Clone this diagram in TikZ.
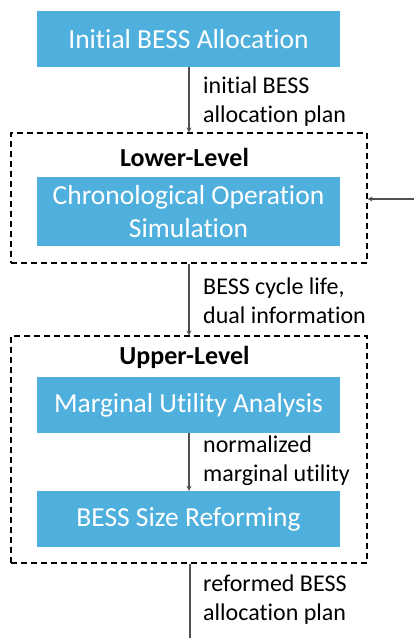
\documentclass[tikz,border=0pt]{standalone}
\usepackage{fontspec}
\setmainfont{Carlito}[RawFeature=-liga]
\usetikzlibrary{arrows.meta}
\definecolor{boxblue}{HTML}{4FB0DE}
\definecolor{linegray}{HTML}{505050}
\tikzset{
  bluebox/.style={fill=boxblue, text=white, minimum width=303pt, align=center, font=\fontsize{27.5}{33}\selectfont, inner sep=0pt},
  dashbox/.style={draw=black, dashed, line width=1.2pt, dash pattern=on 6pt off 4pt},
  conn/.style={draw=linegray, line width=1.2pt, -{Stealth[length=5pt,width=5pt]}},
  lbl/.style={align=left, anchor=west, font=\fontsize{24}{29}\selectfont, inner sep=0pt},
  title/.style={font=\bfseries\fontsize{26}{30}\selectfont, inner sep=0pt}
}
\begin{document}
\begin{tikzpicture}[x=1pt,y=-1pt]
\useasboundingbox (0,0) rectangle (414,638);
% boxes
\node[bluebox, minimum height=56pt] (init) at (188.5,39) {Initial BESS Allocation};
\node[dashbox, minimum width=356pt, minimum height=130pt, inner sep=0pt] (lower) at (189,198) {};
\node[title] (lt) at (184.5,157) {Lower-Level};
\node[bluebox, minimum height=69pt] (chrono) at (188.5,211.5) {Chronological Operation\\Simulation};
\node[dashbox, minimum width=356pt, minimum height=227pt, inner sep=0pt] (upper) at (189,449.5) {};
\node[title] (ut) at (184.5,357) {Upper-Level};
\node[bluebox, minimum height=56pt] (marg) at (188.5,405) {Marginal Utility Analysis};
\node[bluebox, minimum height=56pt] (size) at (188.5,519) {BESS Size Reforming};
\coordinate (feedin) at (414,199);
\coordinate (outend) at (190,638);
% connectors
\draw[conn] (init.south -| 189,0) -- (lower.north -| 189,0);
\draw[conn] (lower.south -| 189,0) -- (upper.north -| 189,0);
\draw[conn] (marg.south -| 189,0) -- (size.north -| 189,0);
\draw[conn] (feedin) -- (lower.east |- feedin);
\draw[draw=linegray, line width=1.2pt] (upper.south -| outend) -- (outend);
% labels
\node[lbl] (l1) at (203,102) {initial BESS\\allocation plan};
\node[lbl] (l2) at (203,301) {BESS cycle life,\\dual information};
\node[lbl] (l3) at (203,461) {normalized\\marginal utility};
\node[lbl] (l4) at (203,600) {reformed BESS\\allocation plan};
\end{tikzpicture}
\end{document}
